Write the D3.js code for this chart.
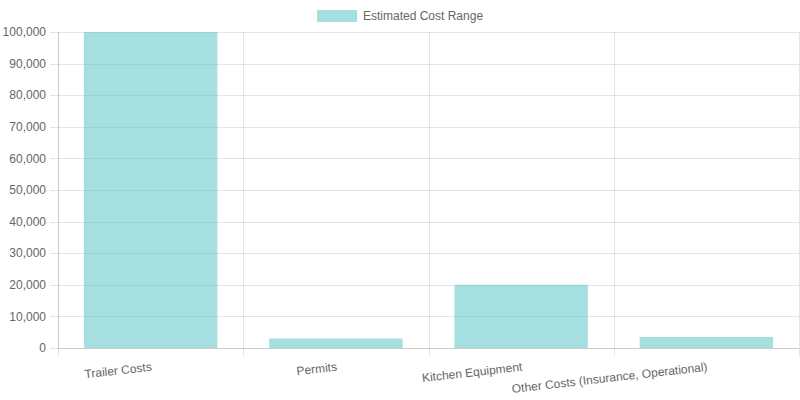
<!DOCTYPE html>
<html><head><meta charset="utf-8">
<script src="https://cdn.jsdelivr.net/npm/d3@7"></script>
<style>body{margin:0;background:#fff}svg{display:block;font-family:"Liberation Sans",Arial,Helvetica,sans-serif}</style>
</head><body><svg id="c" width="800" height="400"></svg>
<script>
const categories = ["Trailer Costs", "Permits", "Kitchen Equipment", "Other Costs (Insurance, Operational)"];
const values = [100000, 3000, 20000, 3500];
const yTicks = [0,10000,20000,30000,40000,50000,60000,70000,80000,90000,100000];
const seriesName = "Estimated Cost Range";

const svg = d3.select("#c");
const mLeft = 58, mRight = 799, mTop = 32, mBottom = 348;
const x = d3.scaleBand().domain(categories).range([mLeft, mRight]).paddingInner(0).paddingOuter(0);
const y = d3.scaleLinear().domain([0, 100000]).range([mBottom, mTop]);
const grid = "rgba(0,0,0,0.1)";
const fill = "rgba(75,192,192,0.5)";

// horizontal grid
svg.append("g").selectAll("line").data(yTicks).join("line")
  .attr("x1", mLeft - 8).attr("x2", mRight).attr("y1", d => Math.round(y(d)) + 0.5).attr("y2", d => Math.round(y(d)) + 0.5)
  .attr("stroke", grid);
// vertical grid
const vx = categories.map(c => x(c)).concat([x(categories[categories.length-1]) + x.bandwidth()]);
svg.append("g").selectAll("line").data(vx).join("line")
  .attr("x1", d => Math.round(d) + 0.5).attr("x2", d => Math.round(d) + 0.5).attr("y1", mTop).attr("y2", mBottom + 8)
  .attr("stroke", grid);
// axis borders
svg.append("line").attr("x1", mLeft).attr("x2", mRight).attr("y1", mBottom + 0.5).attr("y2", mBottom + 0.5).attr("stroke", grid);
svg.append("line").attr("x1", mLeft + 0.5).attr("x2", mLeft + 0.5).attr("y1", mTop).attr("y2", mBottom).attr("stroke", grid);

// bars
const bw = x.bandwidth() * 0.72;
svg.append("g").selectAll("rect").data(values).join("rect")
  .attr("x", (d, i) => x(categories[i]) + (x.bandwidth() - bw) / 2)
  .attr("width", bw)
  .attr("y", d => y(d)).attr("height", d => y(0) - y(d))
  .attr("fill", fill);

// y labels
svg.append("g").selectAll("text").data(yTicks).join("text")
  .attr("x", 46).attr("y", d => y(d)).attr("dy", "0.35em")
  .attr("text-anchor", "end").attr("font-size", 12).attr("fill", "#666")
  .text(d => d3.format(",")(d));

// x labels
svg.append("g").selectAll("text").data(categories).join("text")
  .attr("transform", d => `translate(${x(d) + x.bandwidth() / 2 + 1},${366.5}) rotate(-6.5)`)
  .attr("dy", "0.35em")
  .attr("text-anchor", "end").attr("font-size", 12).attr("fill", "#666")
  .text(d => d);

// legend
const lg = svg.append("g");
lg.append("rect").attr("x", 317).attr("y", 10).attr("width", 40).attr("height", 12).attr("fill", fill);
lg.append("text").attr("x", 363).attr("y", 16).attr("dy", "0.35em").attr("font-size", 12).attr("fill", "#666").text(seriesName);
</script></body></html>
